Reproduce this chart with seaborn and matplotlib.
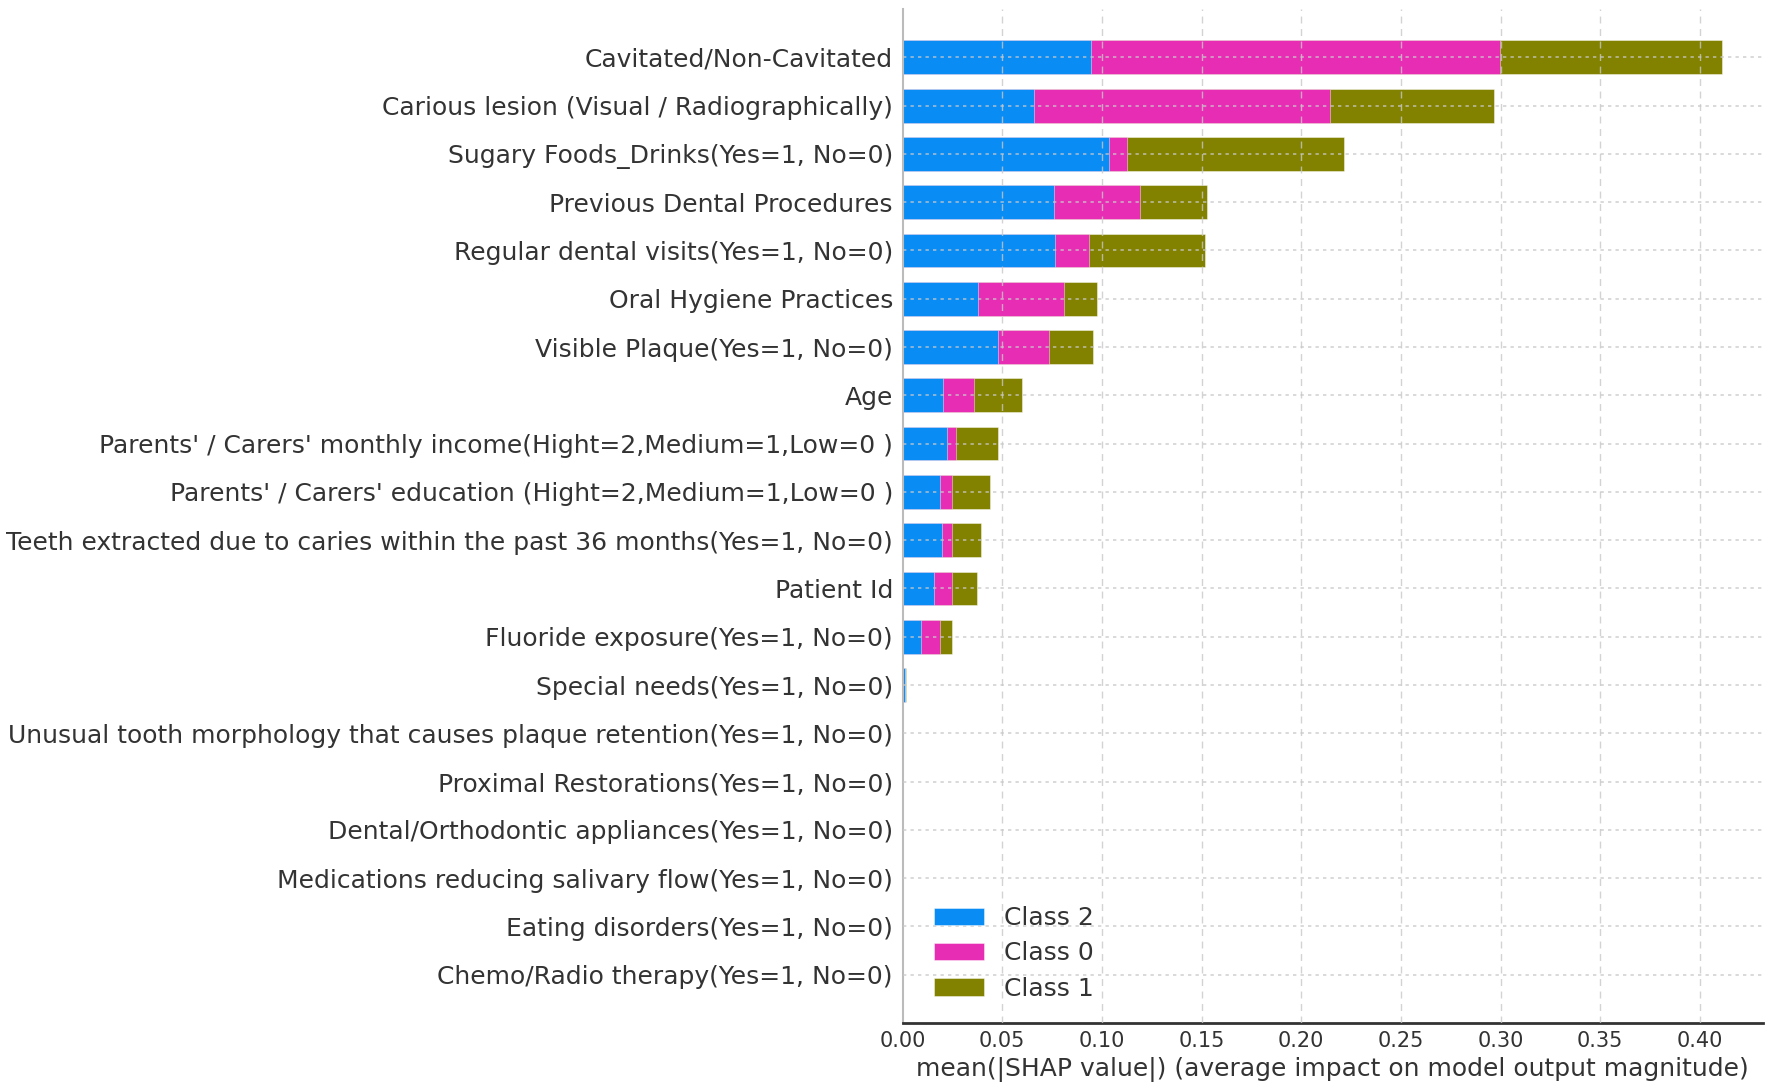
# Mean |SHAP| bar chart, stacked by class

import numpy as np
import pandas as pd
import seaborn as sns
import matplotlib
matplotlib.use("Agg")
import matplotlib.pyplot as plt

features = [
    "Cavitated/Non-Cavitated",
    "Carious lesion (Visual / Radiographically)",
    "Sugary Foods_Drinks(Yes=1, No=0)",
    "Previous Dental Procedures",
    "Regular dental visits(Yes=1, No=0)",
    "Oral Hygiene Practices",
    "Visible Plaque(Yes=1, No=0)",
    "Age",
    "Parents' / Carers' monthly income(Hight=2,Medium=1,Low=0 )",
    "Parents' / Carers' education (Hight=2,Medium=1,Low=0 )",
    "Teeth extracted due to caries within the past 36 months(Yes=1, No=0)",
    "Patient Id",
    "Fluoride exposure(Yes=1, No=0)",
    "Special needs(Yes=1, No=0)",
    "Unusual tooth morphology that causes plaque retention(Yes=1, No=0)",
    "Proximal Restorations(Yes=1, No=0)",
    "Dental/Orthodontic appliances(Yes=1, No=0)",
    "Medications reducing salivary flow(Yes=1, No=0)",
    "Eating disorders(Yes=1, No=0)",
    "Chemo/Radio therapy(Yes=1, No=0)",
]

class2 = [0.0944, 0.0659, 0.1036, 0.0758, 0.0763, 0.0380, 0.0479, 0.0204, 0.0221, 0.0189,
          0.0196, 0.0159, 0.0092, 0.0010, 0, 0, 0, 0, 0, 0]
class0 = [0.2055, 0.1484, 0.0091, 0.0433, 0.0172, 0.0428, 0.0256, 0.0154, 0.0047, 0.0058,
          0.0051, 0.0088, 0.0097, 0.0001, 0, 0, 0, 0, 0, 0]
class1 = [0.1110, 0.0822, 0.1089, 0.0338, 0.0583, 0.0169, 0.0220, 0.0241, 0.0209, 0.0193,
          0.0148, 0.0124, 0.0057, 0.0004, 0, 0, 0, 0, 0, 0]

class_names = ["Class 2", "Class 0", "Class 1"]
colors = ["#0a8cf5", "#e72db4", "#828200"]

df = pd.DataFrame({"feature": features, "c2": class2, "c0": class0, "c1": class1})
df["s1"] = df["c2"]
df["s2"] = df["c2"] + df["c0"]
df["s3"] = df["c2"] + df["c0"] + df["c1"]

sns.set_style("white")
plt.rcParams["font.family"] = "DejaVu Sans"

fig = plt.figure(figsize=(17.72, 10.89), dpi=100)
ax = fig.add_axes([0.5094, 0.0606, 0.4855, 0.9311])

# stacked bars: draw totals first, then overlay partial sums
for col, c, lab in [("s3", colors[2], class_names[2]),
                    ("s2", colors[1], class_names[1]),
                    ("s1", colors[0], class_names[0])]:
    sns.barplot(data=df, x=col, y="feature", color=c, orient="h", width=0.7,
                saturation=1, label=lab, ax=ax, zorder=2, linewidth=0.6,
                edgecolor="#ffffff80")

ax.set_xlim(0, 0.4317)
ax.set_ylim(len(features), -1)
ticks = np.arange(0, 0.41, 0.05)
ax.set_xticks(ticks)
ax.set_xticklabels([f"{v:.2f}" for v in ticks])

# grid lines on top of bars like the reference
for xv in ticks[1:]:
    ax.axvline(xv, color="#c8c8c8", lw=1, ls=(0, (5, 4)), zorder=3, alpha=0.8)
for yi in range(len(features)):
    ax.axhline(yi, color="#c8c8c8", lw=1.2, ls=(0, (2, 2.5)), zorder=3, alpha=0.8)

ax.set_ylabel("")
ax.set_xlabel("mean(|SHAP value|) (average impact on model output magnitude)",
              fontsize=18, color="#333333", labelpad=4)
ax.tick_params(axis="y", length=0, labelsize=18, labelcolor="#333333", pad=7)
ax.tick_params(axis="x", length=6, width=1.2, labelsize=15, labelcolor="#333333",
               color="#333333", direction="in", pad=6)

for s in ["top", "right"]:
    ax.spines[s].set_visible(False)
ax.spines["left"].set_color("#bbbbbb")
ax.spines["left"].set_linewidth(1.5)
ax.spines["bottom"].set_color("#333333")
ax.spines["bottom"].set_linewidth(2)

handles, labels = ax.get_legend_handles_labels()
order = [labels.index(n) for n in class_names]
ax.legend([handles[i] for i in order], [labels[i] for i in order],
          loc="lower left", bbox_to_anchor=(0.01, 0.0), frameon=False,
          fontsize=18, handlelength=2.0, handleheight=0.7, labelspacing=0.45,
          labelcolor="#333333")

plt.savefig("out.png", dpi=100)
